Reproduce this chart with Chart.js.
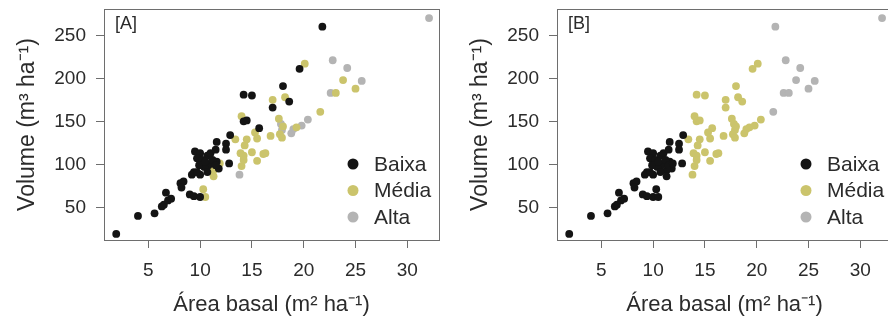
<!DOCTYPE html>
<html>
<head>
<meta charset="utf-8">
<script src="https://cdn.jsdelivr.net/npm/chart.js@4.4.1/dist/chart.umd.min.js"></script>
<style>
  html, body { margin: 0; padding: 0; background: #fff; overflow: hidden; }
  #wrap { position: relative; width: 888px; height: 320px; overflow: hidden; }
  .panel { position: absolute; top: 0; width: 444px; height: 320px; }
</style>
</head>
<body>
<div id="wrap">
  <div class="panel" style="left:0"><canvas id="chartA" width="444" height="320"></canvas></div>
  <div class="panel" style="left:453px"><canvas id="chartB" width="444" height="320"></canvas></div>
</div>
<script>
// basal area (m2/ha) and volume (m3/ha) per plot
const areaBasal = [
  1.9, 4.0, 5.6, 6.3, 6.5, 6.9, 7.2, 6.7, 8.1, 8.4, 8.2, 9.0, 9.4, 10.0, 10.3, 10.5,
  9.5, 10.0, 9.7, 10.2, 10.7, 11.0, 11.5, 11.6, 12.5, 12.5, 12.9, 12.8, 11.6, 11.8,
  11.3, 10.8, 10.4, 9.9, 9.4, 10.0, 10.7, 11.3, 9.2, 10.5, 11.2, 11.5, 9.7, 11.9,
  21.8, 19.6, 20.1, 18.0, 14.2, 15.0, 17.0, 17.0, 18.2, 18.6, 14.2, 14.5, 14.0, 15.7,
  32.1, 22.8, 24.2, 25.6, 22.6, 23.1, 23.8, 25.0, 21.6, 20.4, 19.8, 19.0, 18.8, 17.8,
  17.9, 13.8, 19.3, 17.6, 18.0, 16.8, 17.7, 17.9, 15.3, 15.5, 14.5, 14.3, 13.9, 14.2,
  15.0, 16.1, 16.3, 15.5, 14.0, 13.4, 14.2
];
const volume = [
  19, 40, 43, 51, 53, 58, 60, 67, 78, 80, 73, 65, 63, 62, 71, 62,
  115, 113, 107, 105, 110, 113, 117, 126, 124, 117, 134, 101, 103, 95,
  93, 99, 97, 99, 91, 88, 91, 86, 88, 103, 105, 99, 91, 101,
  260, 211, 217, 191, 181, 180, 166, 175, 178, 173, 150, 151, 156, 142,
  270, 221, 212, 197, 183, 183, 198, 188, 161, 152, 145, 141, 136, 147,
  140, 88, 143, 153, 144, 133, 135, 131, 137, 130, 129, 122, 113, 110,
  114, 112, 113, 104, 98, 129, 105
];
// class of each plot in panel A and panel B (B = Baixa, M = Média, A = Alta)
const classA = [
  "B","B","B","B","B","B","B","B","B","B","B","B","B","B","M","M",
  "B","B","B","B","B","B","B","B","B","B","B","B","B","B",
  "M","B","B","B","B","B","B","M","B","B","B","B","B","M",
  "B","B","M","B","B","B","B","M","M","B","B","B","M","B",
  "A","A","A","A","A","M","M","M","M","A","A","A","A","A",
  "A","A","M","M","M","M","M","M","M","M","M","M","M","M",
  "M","M","M","M","M","M","M"
];
const classB = [
  "B","B","B","B","B","B","B","B","B","B","B","B","B","B","B","B",
  "B","B","B","B","B","B","B","B","B","B","B","B","B","B",
  "B","B","B","B","B","B","B","B","B","B","B","B","B","B",
  "A","M","M","M","M","M","M","M","M","M","M","M","M","M",
  "A","A","A","A","A","A","A","A","A","M","M","M","M","M",
  "M","M","M","M","M","M","M","M","M","M","M","M","M","M",
  "M","M","M","M","M","M","M"
];
const classCodes = ["B", "M", "A"];
const classNames = ["Baixa", "Média", "Alta"];
const classColors = ["#141414", "#cbc46c", "#b4b4b4"];
const xTicks = [5, 10, 15, 20, 25, 30];
const yTicks = [50, 100, 150, 200, 250];

const textColor = "#2b2b2b";
const axisColor = "#6e6e6e";
const fontFamily = '"Liberation Sans", Arial, sans-serif';
Chart.defaults.font.family = fontFamily;

const panelDecor = {
  id: "panelDecor",
  afterDraw(chart, args, opts) {
    const { ctx, chartArea: a } = chart;
    ctx.save();
    ctx.strokeStyle = axisColor;
    ctx.lineWidth = 1;
    ctx.strokeRect(a.left + 0.5, a.top + 0.5, a.right - a.left, a.bottom - a.top);
    ctx.fillStyle = textColor;
    ctx.textBaseline = "middle";
    ctx.font = "18px " + fontFamily;
    ctx.fillText(opts.label, a.left + 11, a.top + 15);
    // legend, bottom right inside the box
    ctx.font = "21px " + fontFamily;
    chart.data.datasets.forEach((ds, i) => {
      const x = a.right - 86;
      const y = a.bottom - 76 + i * 26.5;
      ctx.beginPath();
      ctx.arc(x, y, 5.5, 0, Math.PI * 2);
      ctx.fillStyle = ds.backgroundColor;
      ctx.fill();
      ctx.fillStyle = textColor;
      ctx.fillText(ds.label, x + 21, y + 1);
    });
    ctx.restore();
  },
};

function makeDatasets(classes) {
  return classCodes.map((code, k) => ({
    label: classNames[k],
    data: areaBasal
      .map((x, i) => ({ x: x, y: volume[i], c: classes[i] }))
      .filter((p) => p.c === code),
    backgroundColor: classColors[k],
    borderWidth: 0,
    pointRadius: 3.9,
    pointHoverRadius: 3.9,
  }));
}

function makeChart(canvasId, label, classes) {
  return new Chart(document.getElementById(canvasId), {
    type: "scatter",
    data: { datasets: makeDatasets(classes) },
    plugins: [panelDecor],
    options: {
      responsive: false,
      animation: false,
      layout: { padding: { top: 9, right: 5, left: 0, bottom: 0 } },
      plugins: {
        legend: { display: false },
        tooltip: { enabled: false },
        panelDecor: { label: label },
      },
      scales: {
        x: {
          type: "linear",
          min: 0.72,
          max: 33.06,
          afterBuildTicks: (s) => { s.ticks = xTicks.map((v) => ({ value: v })); },
          afterFit: (s) => {
            s.height = 80;
            s.paddingLeft = 0;
            s.paddingRight = 0;
          },
          grid: { drawOnChartArea: false, tickLength: 8, color: axisColor },
          border: { display: true, color: axisColor },
          ticks: { color: textColor, font: { size: 19 }, padding: 11, maxRotation: 0 },
          title: {
            display: true,
            text: "Área basal (m² ha⁻¹)",
            color: textColor,
            font: { size: 22 },
            padding: { top: 0, bottom: 2 },
          },
        },
        y: {
          type: "linear",
          min: 11.98,
          max: 280.6,
          afterBuildTicks: (s) => { s.ticks = yTicks.map((v) => ({ value: v })); },
          afterFit: (s) => {
            s.width = 104;
            s.paddingTop = 0;
            s.paddingBottom = 0;
          },
          grid: { drawOnChartArea: false, tickLength: 8, color: axisColor },
          border: { display: true, color: axisColor },
          ticks: { color: textColor, font: { size: 19 }, padding: 10 },
          title: {
            display: true,
            text: "Volume (m³ ha⁻¹)",
            color: textColor,
            font: { size: 23 },
            padding: { top: 14, bottom: 0 },
          },
        },
      },
    },
  });
}

makeChart("chartA", "[A]", classA);
makeChart("chartB", "[B]", classB);
</script>
</body>
</html>
